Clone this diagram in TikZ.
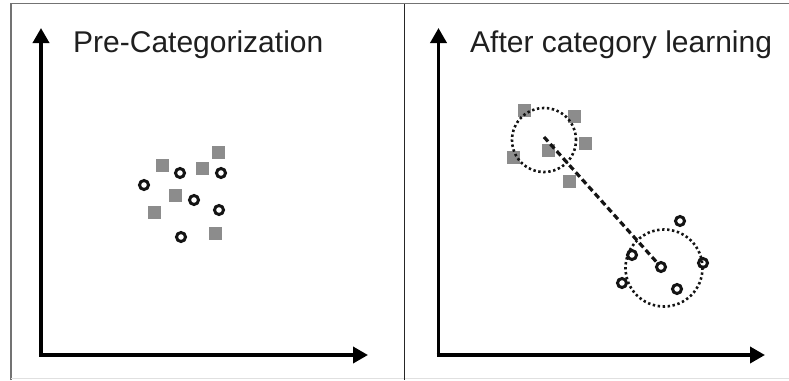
\documentclass[tikz,border=0pt]{standalone}
\usepackage{fontspec}
\setmainfont{Liberation Sans}
\usetikzlibrary{arrows.meta}
\begin{document}
\begin{tikzpicture}[x=1pt,y=-1pt,
  axis/.style={line width=3.6pt,-{Triangle[length=15pt,width=16pt]}},
  sq/.style={fill=black!45,minimum size=13pt,inner sep=0pt,outer sep=0pt,draw=none},
  ring/.style={circle,draw=black!92,line width=3pt,minimum size=9pt,inner sep=0pt},
  cluster/.style={circle,draw=black!92,line width=2.6pt,dash pattern=on 2.4pt off 2.6pt,inner sep=0pt},
  title/.style={anchor=base west,font=\fontsize{30}{35}\selectfont,text=black!88,inner sep=0pt}]
\useasboundingbox (0,0) rectangle (789,380);
\fill[white] (0,0) rectangle (789,380);
% frame
\draw[black!55,line width=1.2pt] (11,380) -- (11,3.5) -- (789,3.5);
\draw[black!12,line width=0.8pt] (11,378.5) -- (789,378.5);
\draw[black!85,line width=1.4pt] (404.7,3.5) -- (404.7,380);

% left panel
\coordinate (lo) at (41,355);
\coordinate (ly) at (41,28);
\coordinate (lx) at (368,355);
\draw[axis] ([yshift=1.8pt]lo) -- (ly);
\draw[axis] ([xshift=-1.8pt]lo) -- (lx);
\node[title] (t1) at (73,52) {Pre-Categorization};
\node[sq] (a1) at (162,165) {};
\node[sq] (a2) at (218,152) {};
\node[sq] (a3) at (202,168) {};
\node[sq] (a4) at (175,195) {};
\node[sq] (a5) at (154,212) {};
\node[sq] (a6) at (215,233) {};
\node[ring] (b1) at (180,173) {};
\node[ring] (b2) at (221,173) {};
\node[ring] (b3) at (144,185) {};
\node[ring] (b4) at (194,200) {};
\node[ring] (b5) at (219,210) {};
\node[ring] (b6) at (181,237) {};

% right panel
\coordinate (ro) at (438.5,355);
\coordinate (ry) at (438.5,28);
\coordinate (rx) at (765,355);
\draw[axis] ([yshift=1.8pt]ro) -- (ry);
\draw[axis] ([xshift=-1.8pt]ro) -- (rx);
\node[title] (t2) at (470,52) {After category learning};
\node[sq] (s1) at (524,110) {};
\node[sq] (s2) at (574,116) {};
\node[sq] (s3) at (585,143) {};
\node[sq] (s4) at (548,150) {};
\node[sq] (s5) at (513,157) {};
\node[sq] (s6) at (569,181) {};
\node[cluster,minimum size=64pt] (k1) at (544,140) {};
\node[cluster,minimum size=77pt] (k2) at (664,268) {};
\coordinate (m1) at (544,137);
\node[ring] (r1) at (680,221) {};
\node[ring] (r2) at (632,255) {};
\node[ring] (r3) at (661,267) {};
\node[ring] (r4) at (703,263) {};
\node[ring] (r5) at (622,283) {};
\node[ring] (r6) at (677,289) {};
\draw[black!92,line width=3.2pt,dash pattern=on 6pt off 3.5pt] (m1) -- (r3);
\end{tikzpicture}
\end{document}
